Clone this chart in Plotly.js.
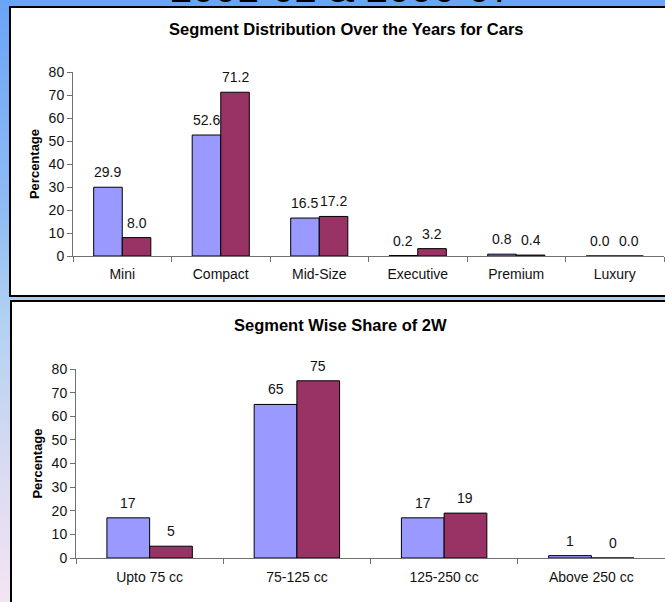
<!DOCTYPE html>
<html>
<head>
<meta charset="utf-8">
<script src="https://cdn.plot.ly/plotly-3.0.1.min.js"></script>
<style>
  html, body { margin: 0; padding: 0; }
  body {
    width: 665px; height: 602px; overflow: hidden;
    background: linear-gradient(to bottom, #6aa4f8 0%, #8fbcf4 35%, #b0d0f2 52%, #dcdcf2 80%, #f4e4f2 100%);
  }
  #chart { width: 665px; height: 602px; }
</style>
</head>
<body>
<div id="chart"></div>
<script>
// ---- Data ----
const carCategories = ["Mini", "Compact", "Mid-Size", "Executive", "Premium", "Luxury"];
const cars2001 = [29.9, 52.6, 16.5, 0.2, 0.8, 0.0];
const cars2006 = [8.0, 71.2, 17.2, 3.2, 0.4, 0.0];

const twCategories = ["Upto 75 cc", "75-125 cc", "125-250 cc", "Above 250 cc"];
const tw2001 = [17, 65, 17, 1];
const tw2006 = [5, 75, 19, 0];

const seriesNames = ["2001-02", "2006-07"];
const yTicks = [0, 10, 20, 30, 40, 50, 60, 70, 80];

// ---- Helpers ----
const W = 665, H = 602;
const px = v => v / W;
const py = v => 1 - v / H;

const blue = "#9999ff", maroon = "#993366";
const font = "Arial, 'Liberation Sans', sans-serif";
const BARGAP = 0.42;

const topDomain = [px(73), px(664)];
const botDomain = [px(76), 1];

function barTrace(x, y, name, color, xa, ya) {
  return {
    type: "bar", x: x, y: y, name: name,
    xaxis: xa, yaxis: ya,
    marker: { color: color, line: { color: "#000", width: 1 } },
    hoverinfo: "x+y"
  };
}

const data = [
  barTrace(carCategories, cars2001, seriesNames[0], blue, "x", "y"),
  barTrace(carCategories, cars2006, seriesNames[1], maroon, "x", "y"),
  barTrace(twCategories, tw2001, seriesNames[0], blue, "x2", "y2"),
  barTrace(twCategories, tw2006, seriesNames[1], maroon, "x2", "y2")
];

// value labels, anchored to the data points
function labels(cats, vals, xa, ya, side, domain, fmt) {
  const catW = (domain[1] - domain[0]) * W / cats.length;
  const half = catW * (1 - BARGAP) / 4;
  return cats.map((c, i) => ({
    text: fmt(vals[i]), xref: xa, yref: ya, x: c, y: vals[i],
    xshift: side * half, yshift: 15, xanchor: "center", yanchor: "middle",
    showarrow: false, font: { family: font, size: 14, color: "#111" }
  }));
}

function xAxis(domain, anchor, standoff) {
  return {
    domain: domain, anchor: anchor, type: "category",
    showgrid: false, zeroline: false,
    showline: true, linecolor: "#707070", linewidth: 1,
    ticks: "outside", ticklen: 5, tickcolor: "#707070", tickson: "boundaries",
    ticklabelstandoff: standoff,
    tickfont: { family: font, size: 14, color: "#111" },
    fixedrange: true
  };
}
function yAxis(domain, anchor) {
  return {
    domain: domain, anchor: anchor, range: [0, 80],
    tickvals: yTicks, ticktext: yTicks.map(String),
    showgrid: false, zeroline: false,
    showline: true, linecolor: "#707070", linewidth: 1,
    ticks: "outside", ticklen: 5, tickcolor: "#707070",
    tickfont: { family: font, size: 14, color: "#111" },
    title: { text: "<b>Percentage</b>", font: { family: font, size: 13, color: "#000" }, standoff: 6 },
    fixedrange: true
  };
}

const annotations = [
  { text: "2001-02 &amp; 2006-07", xref: "paper", yref: "paper",
    x: px(341), y: py(12), xanchor: "center", yanchor: "bottom", showarrow: false,
    font: { family: font, size: 40, color: "#000" } },
  { text: "<b>Segment Distribution Over the Years for Cars</b>", xref: "paper", yref: "paper",
    x: px(346), y: py(29), xanchor: "center", yanchor: "middle", showarrow: false,
    font: { family: font, size: 16.5, color: "#000" } },
  { text: "<b>Segment Wise Share of 2W</b>", xref: "paper", yref: "paper",
    x: px(340), y: py(325), xanchor: "center", yanchor: "middle", showarrow: false,
    font: { family: font, size: 16.5, color: "#000" } }
].concat(
  labels(carCategories, cars2001, "x", "y", -1, topDomain, v => v.toFixed(1)),
  labels(carCategories, cars2006, "x", "y", 1, topDomain, v => v.toFixed(1)),
  labels(twCategories, tw2001, "x2", "y2", -1, botDomain, v => String(v)),
  labels(twCategories, tw2006, "x2", "y2", 1, botDomain, v => String(v))
);

const layout = {
  width: W, height: H,
  margin: { l: 0, r: 0, t: 0, b: 0, pad: 0 },
  paper_bgcolor: "rgba(0,0,0,0)",
  plot_bgcolor: "rgba(0,0,0,0)",
  showlegend: false,
  barmode: "group",
  bargap: BARGAP,
  bargroupgap: 0,
  xaxis: xAxis(topDomain, "y", 5),
  yaxis: yAxis([py(256), py(72)], "x"),
  xaxis2: xAxis(botDomain, "y2", 6),
  yaxis2: yAxis([py(558), py(369)], "x2"),
  shapes: [
    { type: "rect", xref: "paper", yref: "paper", layer: "below",
      x0: px(10), x1: 1.02, y0: py(296), y1: py(7),
      fillcolor: "#ffffff", line: { color: "#000", width: 2 } },
    { type: "rect", xref: "paper", yref: "paper", layer: "below",
      x0: px(11), x1: 1.02, y0: -0.02, y1: py(301),
      fillcolor: "#ffffff", line: { color: "#000", width: 2 } }
  ],
  annotations: annotations
};

Plotly.newPlot("chart", data, layout, { displayModeBar: false, staticPlot: true });
</script>
</body>
</html>
